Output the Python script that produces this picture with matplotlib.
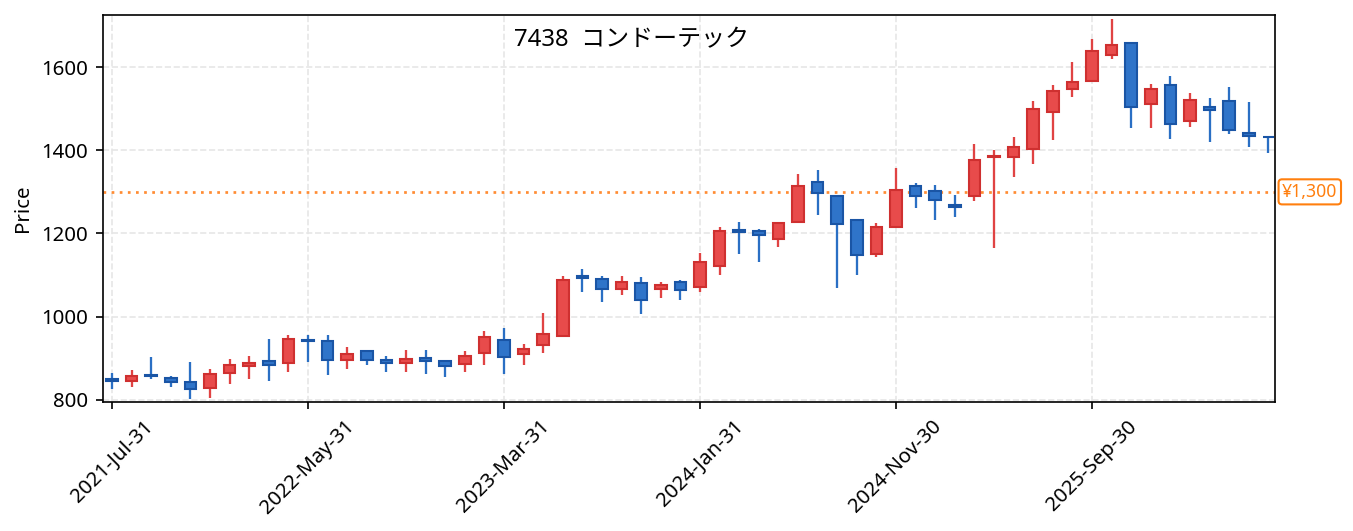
import matplotlib
matplotlib.use("Agg")
import matplotlib.pyplot as plt
import numpy as np
import pandas as pd

plt.rcParams['font.family'] = ['Noto Sans', 'Noto Sans CJK JP', 'DejaVu Sans']

title = "7438  コンドーテック"
dates = pd.date_range("2021-07-31", periods=60, freq="ME")
opens = [851, 846, 859, 853, 844, 829, 865, 881, 894, 889,
         944, 942, 896, 917, 895, 889, 901, 894, 886, 913,
         944, 910, 933, 953, 1097, 1091, 1067, 1082, 1067, 1083,
         1071, 1122, 1208, 1207, 1187, 1228, 1324, 1291, 1233, 1150,
         1216, 1315, 1303, 1268, 1290, 1383, 1384, 1403, 1492, 1547,
         1566, 1629, 1658, 1510, 1558, 1470, 1505, 1519, 1441, 1433]
highs = [864, 872, 903, 857, 890, 874, 898, 905, 946, 955,
         957, 955, 926, 919, 905, 919, 919, 895, 917, 966,
         972, 935, 1010, 1097, 1115, 1097, 1097, 1095, 1083, 1088,
         1152, 1215, 1227, 1210, 1228, 1343, 1353, 1292, 1234, 1225,
         1357, 1321, 1316, 1292, 1415, 1400, 1432, 1518, 1556, 1612,
         1667, 1715, 1659, 1559, 1578, 1538, 1526, 1552, 1516, 1433]
lows = [826, 830, 849, 830, 802, 805, 839, 851, 846, 868,
        892, 861, 875, 885, 868, 868, 863, 856, 867, 884,
        862, 885, 912, 950, 1060, 1036, 1051, 1007, 1046, 1039,
        1060, 1099, 1151, 1132, 1168, 1227, 1245, 1070, 1099, 1144,
        1216, 1260, 1233, 1240, 1279, 1166, 1336, 1368, 1425, 1529,
        1566, 1620, 1454, 1454, 1428, 1457, 1420, 1440, 1409, 1394]
closes = [846, 858, 857, 842, 827, 863, 885, 888, 884, 947,
          941, 896, 911, 896, 889, 899, 894, 881, 906, 952,
          904, 922, 958, 1087, 1093, 1067, 1083, 1040, 1076, 1064,
          1132, 1207, 1204, 1196, 1224, 1315, 1297, 1223, 1148, 1216,
          1305, 1291, 1280, 1264, 1377, 1386, 1407, 1500, 1543, 1563,
          1639, 1652, 1503, 1548, 1463, 1521, 1497, 1449, 1434, 1431]
ref_level = 1300
ref_label = "¥1,300"
tick_idx = [0, 10, 20, 30, 40, 50]
tick_labels = [dates[i].strftime("%Y-%b-%d") for i in tick_idx]

up_face, up_edge, up_wick = "#e84b4b", "#cf3030", "#e04343"
dn_face, dn_edge, dn_wick = "#2f74c9", "#1a55a5", "#2a6fc4"

fig = plt.figure(figsize=(9.02, 3.54), dpi=150)
ax = fig.add_axes([0.0761, 0.243, 0.8663, 0.7287])

x = np.arange(len(opens))
o = np.array(opens, float); c = np.array(closes, float)
h = np.array(highs, float); l = np.array(lows, float)
up = c >= o

ax.vlines(x[up], l[up], h[up], color=up_wick, linewidth=1.1, zorder=2)
ax.vlines(x[~up], l[~up], h[~up], color=dn_wick, linewidth=1.1, zorder=2)
bot = np.minimum(o, c)
hgt = np.maximum(np.abs(c - o), 1.0)
ax.bar(x[up], hgt[up], bottom=bot[up], width=0.6, color=up_face,
       edgecolor=up_edge, linewidth=1.0, zorder=3)
ax.bar(x[~up], hgt[~up], bottom=bot[~up], width=0.6, color=dn_face,
       edgecolor=dn_edge, linewidth=1.0, zorder=3)

ax.axhline(ref_level, color="#ff8c33", linestyle=(0, (1, 2)), linewidth=1.3, zorder=1)
ax.annotate(ref_label, xy=(1.006, ref_level), xycoords=("axes fraction", "data"),
            ha="left", va="center", fontsize=8.5, color="#ff7f0e",
            bbox=dict(boxstyle="round,pad=0.2", fc="white", ec="#ff7f0e", lw=1.0),
            annotation_clip=False)

ax.set_xlim(-0.46, 59.34)
ax.set_ylim(795, 1725)
ax.set_yticks([800, 1000, 1200, 1400, 1600])
ax.set_xticks(tick_idx)
ax.set_xticklabels(tick_labels, rotation=45)
ax.tick_params(labelsize=9.8)
ax.grid(True, linestyle="--", color="#e6e6e6", linewidth=0.8, zorder=0)
ax.set_axisbelow(True)
ax.set_ylabel("Price", fontsize=9.8)
ax.text(0.451, 0.935, title, transform=ax.transAxes, ha="center", va="center", fontsize=11.5)

fig.savefig("out.png", dpi=150)
